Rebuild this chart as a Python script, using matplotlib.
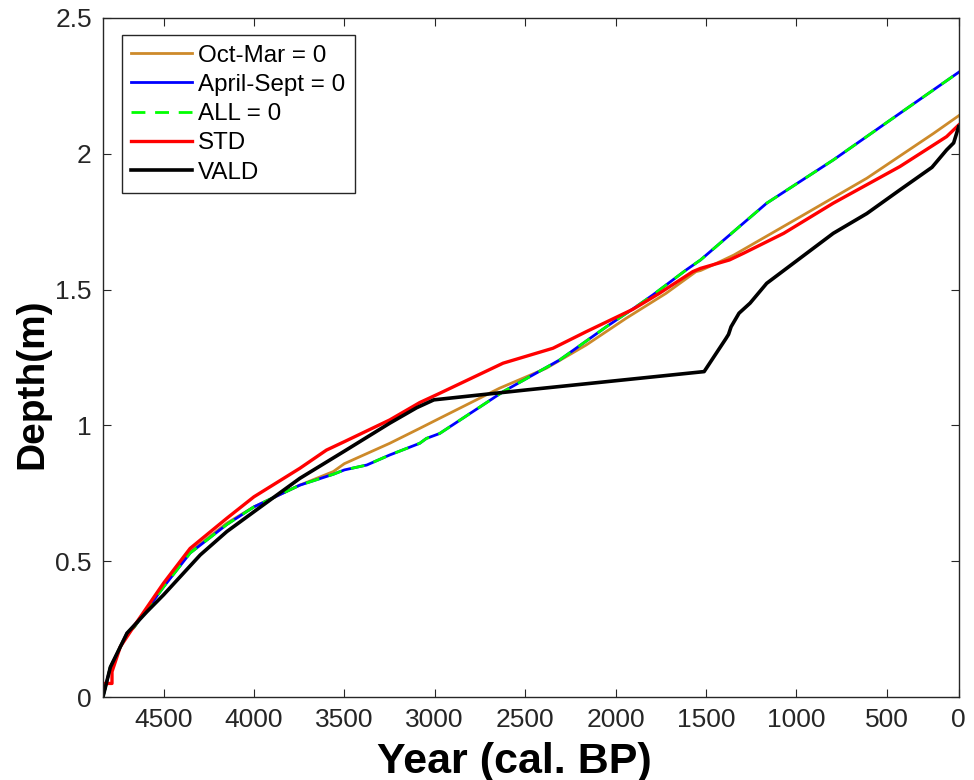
import numpy as np
from matplotlib import pyplot as plt

plt.rcParams['font.family'] = ['Liberation Sans', 'DejaVu Sans']

# 年代 (cal. BP) 与深度 (m)
vald_year = [4835, 4794, 4702, 4592, 4500, 4297, 4150, 4000, 3746, 3500, 3249, 3100, 3005,
             2500, 1510, 1389, 1375, 1361, 1317, 1256, 1164, 1000, 796, 610, 427, 250, 169, 130, 102]
vald_depth = [0.0, 0.11, 0.235, 0.314, 0.376, 0.523, 0.609, 0.682, 0.805, 0.905, 1.008, 1.065, 1.094,
              1.13, 1.198, 1.32, 1.335, 1.363, 1.413, 1.45, 1.523, 1.605, 1.707, 1.78, 1.867, 1.95, 2.014, 2.04, 2.10]

std_year = [4835, 4785, 4785, 4739, 4665, 4500, 4353, 4150, 4000, 3746, 3599, 3500, 3249, 3083,
            2973, 2622, 2346, 2162, 1905, 1758, 1573, 1530, 1370, 1291, 1070, 796, 427, 169, 102]
std_depth = [0.05, 0.05, 0.093, 0.185, 0.259, 0.419, 0.547, 0.658, 0.737, 0.842, 0.909, 0.94, 1.02, 1.084,
             1.118, 1.229, 1.284, 1.345, 1.427, 1.486, 1.566, 1.578, 1.609, 1.634, 1.707, 1.818, 1.953, 2.063, 2.106]

octmar_year = [4835, 4794, 4702, 4665, 4500, 4353, 4150, 4000, 3746, 3561, 3500, 3249, 3083, 2973,
               2641, 2384, 2162, 1942, 1721, 1555, 1530, 1463, 1346, 978, 610, 241, 102]
octmar_depth = [0.0, 0.11, 0.235, 0.255, 0.41, 0.535, 0.64, 0.70, 0.78, 0.83, 0.859, 0.934, 0.989, 1.026,
                1.137, 1.21, 1.296, 1.394, 1.486, 1.566, 1.57, 1.59, 1.627, 1.768, 1.91, 2.075, 2.14]

aprsep_year = [4835, 4794, 4702, 4665, 4500, 4353, 4150, 4000, 3746, 3561, 3500, 3376, 3249, 3083,
               3046, 2973, 2622, 2309, 2051, 1886, 1794, 1610, 1530, 1164, 796, 427, 102]
aprsep_depth = [0.0, 0.11, 0.235, 0.255, 0.405, 0.53, 0.635, 0.70, 0.78, 0.82, 0.836, 0.854, 0.891, 0.934,
                0.952, 0.97, 1.124, 1.241, 1.363, 1.437, 1.48, 1.572, 1.609, 1.818, 1.977, 2.149, 2.30]

# ALL = 0 与 April-Sept = 0 几乎重合
all_year = aprsep_year
all_depth = aprsep_depth

x_ticks = [4500, 4000, 3500, 3000, 2500, 2000, 1500, 1000, 500, 102]
x_labels = ['4500', '4000', '3500', '3000', '2500', '2000', '1500', '1000', '500', '0']
y_ticks = [0, 0.5, 1, 1.5, 2, 2.5]
y_labels = ['0', '0.5', '1', '1.5', '2', '2.5']

fig = plt.figure(figsize=(9.74, 7.8), dpi=100)
ax = fig.add_axes([0.1057, 0.1064, 0.8786, 0.8706])

ax.plot(octmar_year, octmar_depth, color='#CD8A2A', lw=2.0, label='Oct-Mar = 0')
ax.plot(aprsep_year, aprsep_depth, color='#0000FF', lw=2.0, label='April-Sept = 0')
ax.plot(all_year, all_depth, color='#00FF00', lw=2.0, ls=(0, (5, 3.5)), label='ALL = 0')
ax.plot(std_year, std_depth, color='#FF0000', lw=2.4, label='STD')
ax.plot(vald_year, vald_depth, color='black', lw=2.6, label='VALD')

ax.set_xlim(4835, 102)
ax.set_ylim(0, 2.5)
ax.set_xticks(x_ticks)
ax.set_xticklabels(x_labels)
ax.set_yticks(y_ticks)
ax.set_yticklabels(y_labels)
ax.tick_params(direction='in', length=6, width=0.8, top=True, right=True,
               labelsize=19, colors='#262626', pad=8)
for s in ax.spines.values():
    s.set_color('#262626')
    s.set_linewidth(1.0)

ax.set_xlabel('Year (cal. BP)', fontsize=31, fontweight='bold')
ax.set_ylabel('Depth(m)', fontsize=28, fontweight='bold')
ax.xaxis.set_label_coords(0.481, -0.066, transform=ax.transAxes)
ax.yaxis.set_label_coords(-0.061, 0.461, transform=ax.transAxes)

leg = ax.legend(loc='upper left', bbox_to_anchor=(0.022, 0.975), fontsize=17.4,
                frameon=True, fancybox=False, edgecolor='#262626', framealpha=1,
                handlelength=2.5, handletextpad=0.25, labelspacing=0.3, borderpad=0.4,
                borderaxespad=0)
leg.get_frame().set_linewidth(1.0)

plt.savefig('out.png', dpi=100)
